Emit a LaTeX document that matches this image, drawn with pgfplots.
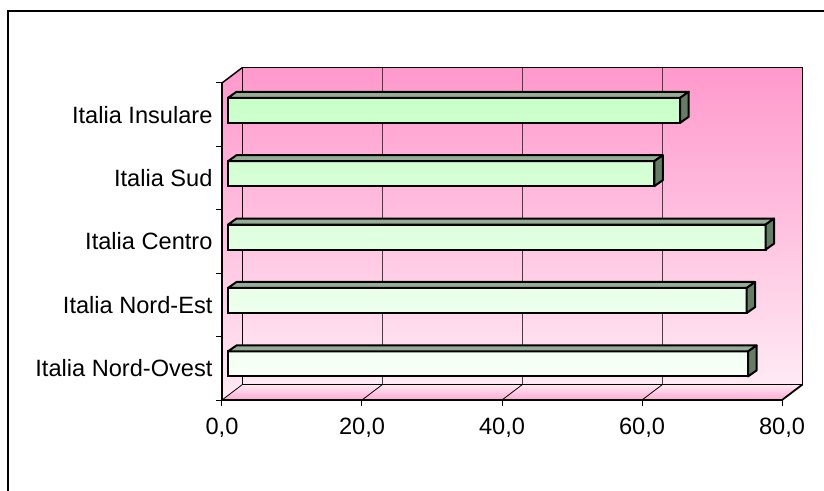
\documentclass[border=0pt]{standalone}
\usepackage{pgfplots}
\pgfplotsset{compat=1.18}
\usepackage{fontspec}
\setmainfont{Liberation Sans}
\definecolor{wallTop}{RGB}{255,153,204}
\definecolor{wallBot}{RGB}{255,234,244}
\definecolor{floorTop}{RGB}{255,232,243}
\definecolor{floorBot}{RGB}{255,170,210}
\definecolor{barTop}{RGB}{200,255,200}
\definecolor{barBot}{RGB}{248,255,248}
\definecolor{faceTop}{RGB}{150,172,150}
\definecolor{faceSide}{RGB}{100,125,100}
\begin{document}
\begin{tikzpicture}
\begin{axis}[
  x=7bp, y=63.4bp,
  xmin=0, xmax=80, ymin=0, ymax=5,
  clip=false, axis on top,
  axis x line*=bottom, axis y line*=left,
  axis line style={line width=1.5bp, black},
  tick align=outside,
  tick style={black, line width=1bp},
  major tick length=6bp,
  xtick={0,20,40,60,80},
  ytick={0,1,2,3,4,5},
  y tick label as interval,
  yticklabels={Italia Nord-Ovest, Italia Nord-Est, Italia Centro, Italia Sud, Italia Insulare},
  tick label style={font=\fontsize{23.6bp}{28bp}\selectfont},
  xticklabel style={yshift=-8bp},
  /pgf/number format/fixed,
  /pgf/number format/fixed zerofill,
  /pgf/number format/precision=1,
  /pgf/number format/use comma,
  /pgf/number format/assume math mode=true,
]
% walls
\path[top color=wallTop, bottom color=wallBot] (axis cs:2.93,0.245) rectangle (axis cs:82.93,5.245);
\path[top color=wallTop, bottom color=wallBot] (axis cs:0,0) -- (axis cs:2.93,0.245) -- (axis cs:2.93,5.245) -- (axis cs:0,5) -- cycle;
\path[top color=floorTop, bottom color=floorBot] (axis cs:0,0) -- (axis cs:80,0) -- (axis cs:82.93,0.245) -- (axis cs:2.93,0.245) -- cycle;
% grid
\draw[black!75, line width=0.8bp] (axis cs:22.93,0.245) -- (axis cs:22.93,5.245);
\draw[black!75, line width=0.8bp] (axis cs:42.93,0.245) -- (axis cs:42.93,5.245);
\draw[black!75, line width=0.8bp] (axis cs:62.93,0.245) -- (axis cs:62.93,5.245);
\draw[black, line width=0.8bp] (axis cs:0,0) -- (axis cs:2.93,0.245);
\draw[black, line width=0.8bp] (axis cs:20,0) -- (axis cs:22.93,0.245);
\draw[black, line width=0.8bp] (axis cs:40,0) -- (axis cs:42.93,0.245);
\draw[black, line width=0.8bp] (axis cs:60,0) -- (axis cs:62.93,0.245);
% outlines
\draw[black, line width=1.8bp] (axis cs:2.93,0.245) rectangle (axis cs:82.93,5.245);
\draw[black, line width=1.5bp] (axis cs:0,5) -- (axis cs:2.93,5.245);
\draw[black, line width=1.8bp] (axis cs:80,0) -- (axis cs:82.93,0.245);
% bars (front faces)
\addplot[xbar, bar width=25bp, bar shift=0pt, draw=black, line width=2bp,
  top color=barTop, bottom color=barBot, xshift=6bp, yshift=4.4bp]
  coordinates {(74.3,0.5) (74.1,1.5) (76.8,2.5) (60.9,3.5) (64.6,4.5)};
% bar top faces
\addplot[fill=faceTop, draw=black, line width=2bp, line join=round] coordinates {(0.857,0.7666) (75.157,0.7666) (76.371,0.8612) (2.071,0.8612)} --cycle;
\addplot[fill=faceTop, draw=black, line width=2bp, line join=round] coordinates {(0.857,1.7666) (74.957,1.7666) (76.171,1.8612) (2.071,1.8612)} --cycle;
\addplot[fill=faceTop, draw=black, line width=2bp, line join=round] coordinates {(0.857,2.7666) (77.657,2.7666) (78.871,2.8612) (2.071,2.8612)} --cycle;
\addplot[fill=faceTop, draw=black, line width=2bp, line join=round] coordinates {(0.857,3.7666) (61.757,3.7666) (62.971,3.8612) (2.071,3.8612)} --cycle;
\addplot[fill=faceTop, draw=black, line width=2bp, line join=round] coordinates {(0.857,4.7666) (65.457,4.7666) (66.671,4.8612) (2.071,4.8612)} --cycle;
% bar side faces
\addplot[fill=faceSide, draw=black, line width=2bp, line join=round] coordinates {(75.157,0.7666) (76.371,0.8612) (76.371,0.4669) (75.157,0.3722)} --cycle;
\addplot[fill=faceSide, draw=black, line width=2bp, line join=round] coordinates {(74.957,1.7666) (76.171,1.8612) (76.171,1.4669) (74.957,1.3722)} --cycle;
\addplot[fill=faceSide, draw=black, line width=2bp, line join=round] coordinates {(77.657,2.7666) (78.871,2.8612) (78.871,2.4669) (77.657,2.3722)} --cycle;
\addplot[fill=faceSide, draw=black, line width=2bp, line join=round] coordinates {(61.757,3.7666) (62.971,3.8612) (62.971,3.4669) (61.757,3.3722)} --cycle;
\addplot[fill=faceSide, draw=black, line width=2bp, line join=round] coordinates {(65.457,4.7666) (66.671,4.8612) (66.671,4.4669) (65.457,4.3722)} --cycle;
% outer frame and page box
\draw[black, line width=2bp] (axis cs:-30.571,-2) -- (axis cs:-30.571,6.1356) -- (axis cs:88,6.1356);
\coordinate (bbA) at (axis cs:-31.714,6.309);
\coordinate (bbB) at (axis cs:86,-1.4196);
\end{axis}
\pgfresetboundingbox
\useasboundingbox (bbA) rectangle (bbB);
\end{tikzpicture}
\end{document}
